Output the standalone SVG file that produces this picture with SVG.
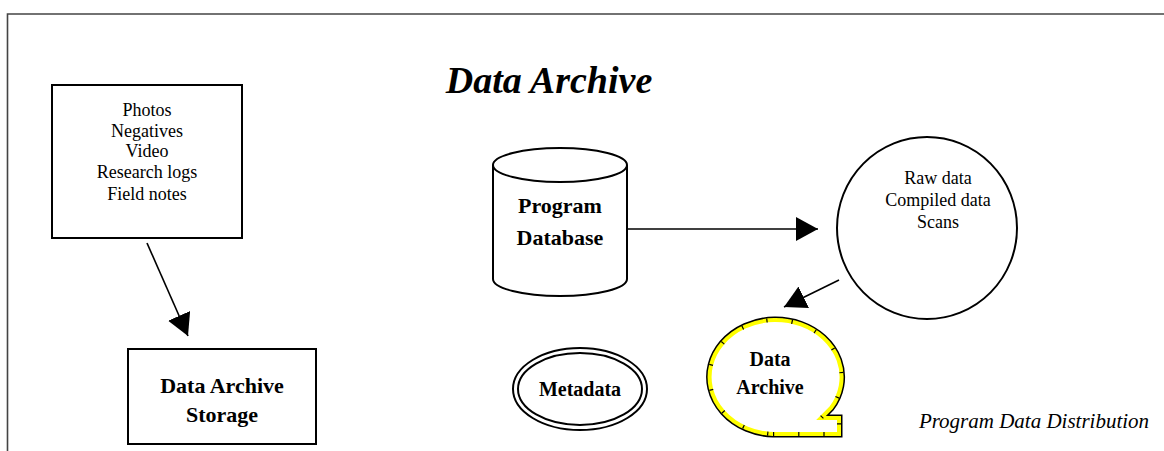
<svg xmlns="http://www.w3.org/2000/svg" width="1164" height="451" viewBox="0 0 1164 451">
<style>
.t{font-family:"Liberation Serif","Times New Roman",serif;font-size:18px;fill:#000;text-anchor:middle}
.b{font-family:"Liberation Serif","Times New Roman",serif;font-weight:bold;font-size:22px;fill:#000;text-anchor:middle}
.shape{fill:#fff;stroke:#000;stroke-width:2}
.conn{stroke:#000;stroke-width:1.6;fill:none}
</style>
<defs>
<marker id="ah" viewBox="0 0 22 24" refX="22" refY="12" markerWidth="22" markerHeight="24" markerUnits="userSpaceOnUse" orient="auto">
<path d="M0,0 L22,12 L0,24 Z" fill="#000"/>
</marker>
</defs>
<rect width="1164" height="451" fill="#fff"/>
<g id="frame">
<path d="M7.5,451 L7.5,14 L1164,14" fill="none" stroke="#444" stroke-width="1.6"/>
</g>
<g id="title">
<text x="549" y="93" style="font-family:'Liberation Serif','Times New Roman',serif;font-size:38px;font-weight:bold;font-style:italic;text-anchor:middle">Data Archive</text>
</g>
<g id="sources">
<rect class="shape" x="52" y="85" width="190" height="153"/>
<text class="t" x="147" y="116">Photos</text>
<text class="t" x="147" y="137">Negatives</text>
<text class="t" x="147" y="157">Video</text>
<text class="t" x="147" y="178">Research logs</text>
<text class="t" x="147" y="200">Field notes</text>
</g>
<g id="storage">
<rect class="shape" x="128" y="349" width="188" height="95"/>
<text class="b" x="222" y="393">Data Archive</text>
<text class="b" x="222" y="422">Storage</text>
</g>
<g id="database">
<path class="shape" d="M493,165 L493,279 A67,17 0 0 0 627,279 L627,165"/>
<ellipse class="shape" cx="560" cy="165" rx="67" ry="17"/>
<text class="b" x="560" y="213">Program</text>
<text class="b" x="560" y="245">Database</text>
</g>
<g id="rawdata">
<ellipse class="shape" cx="927" cy="228" rx="90" ry="91" stroke-width="1.6"/>
<text class="t" x="938" y="184">Raw data</text>
<text class="t" x="938" y="206">Compiled data</text>
<text class="t" x="938" y="228">Scans</text>
</g>
<g id="metadata">
<ellipse cx="580" cy="389" rx="67" ry="41" fill="#fff" stroke="#000" stroke-width="2"/>
<ellipse cx="580" cy="389" rx="62" ry="36" fill="none" stroke="#000" stroke-width="2"/>
<text class="b" x="580" y="396" style="font-size:20px">Metadata</text>
</g>
<g id="archive">
<path d="M773,434 L839,434 L839,418 L821,418 L831,408 A66,57 0 1 0 773,434 Z" fill="#fff" stroke="#000" stroke-width="7" stroke-linejoin="miter"/>
<path d="M773,434 L839,434 L839,418 L821,418 L831,408 A66,57 0 1 0 773,434 Z" fill="#fff" stroke="#ffff00" stroke-width="4"/>
<path d="M773,434 L839,434 L839,418 L821,418 L831,408 A66,57 0 1 0 773,434 Z" fill="none" stroke="#000" stroke-width="4" stroke-dasharray="1.2 24"/>
<text class="b" x="770" y="366" style="font-size:20px">Data</text>
<text class="b" x="770" y="394" style="font-size:20px">Archive</text>
</g>
<g id="connectors">
<line class="conn" x1="147" y1="243" x2="188" y2="336" marker-end="url(#ah)"/>
<line class="conn" x1="627" y1="229" x2="818" y2="229" marker-end="url(#ah)"/>
<line class="conn" x1="839" y1="280" x2="784" y2="307" marker-end="url(#ah)"/>
</g>
<g id="caption">
<text x="1034" y="428" style="font-family:'Liberation Serif','Times New Roman',serif;font-size:21px;font-style:italic;text-anchor:middle">Program Data Distribution</text>
</g>
</svg>
